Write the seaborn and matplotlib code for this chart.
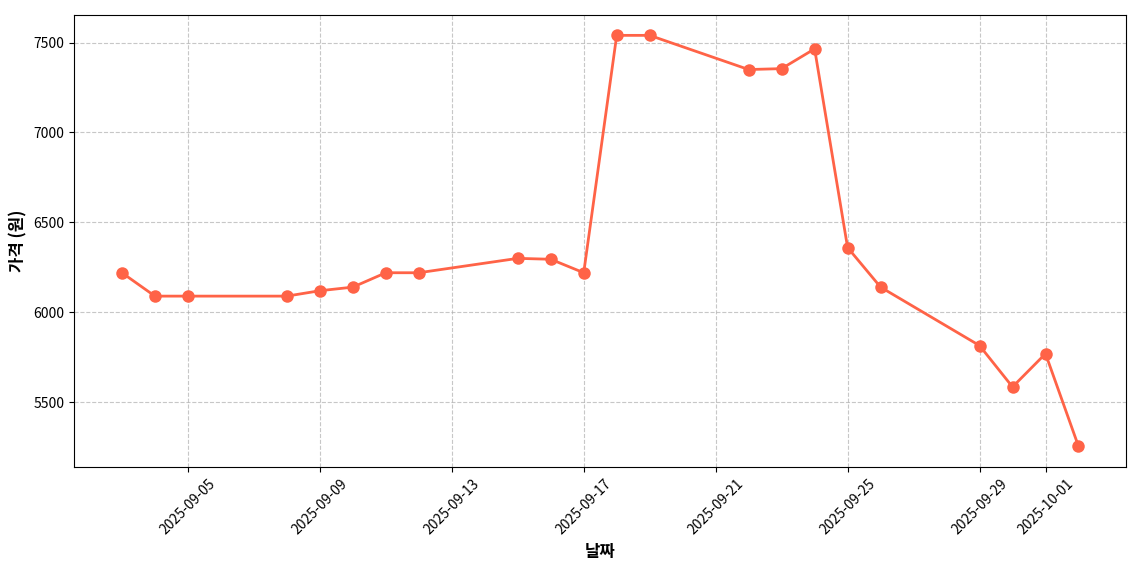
import pandas as pd
import matplotlib
matplotlib.use('Agg')
import matplotlib.pyplot as plt
import seaborn as sns

# Price data
dates = ['2025-09-03', '2025-09-04', '2025-09-05', '2025-09-08', '2025-09-09',
         '2025-09-10', '2025-09-11', '2025-09-12', '2025-09-15', '2025-09-16',
         '2025-09-17', '2025-09-18', '2025-09-19', '2025-09-22', '2025-09-23',
         '2025-09-24', '2025-09-25', '2025-09-26', '2025-09-29', '2025-09-30',
         '2025-10-01', '2025-10-02']
prices = [6220, 6090, 6090, 6090, 6120,
          6140, 6220, 6220, 6300, 6295,
          6220, 7540, 7540, 7350, 7355,
          7465, 6360, 6140, 5815, 5585,
          5770, 5255]

df = pd.DataFrame({'date': pd.to_datetime(dates), 'price': prices})

plt.rcParams['font.family'] = ['Noto Sans CJK KR', 'DejaVu Sans']
plt.rcParams['axes.unicode_minus'] = False

fig, ax = plt.subplots(figsize=(11.4, 5.7), dpi=100)
sns.lineplot(data=df, x='date', y='price', marker='o', color='#FF6347',
             linewidth=2, markersize=9, markeredgewidth=0, ax=ax)

ax.set_xlabel('날짜', fontsize=12, fontweight='bold')
ax.set_ylabel('가격 (원)', fontsize=12, fontweight='bold')
ax.grid(True, linestyle='--', alpha=0.7)
plt.xticks(rotation=45)

# match the reference's axes box
fig.subplots_adjust(left=0.065, right=0.988, top=0.974, bottom=0.181)
plt.savefig('out.png')
